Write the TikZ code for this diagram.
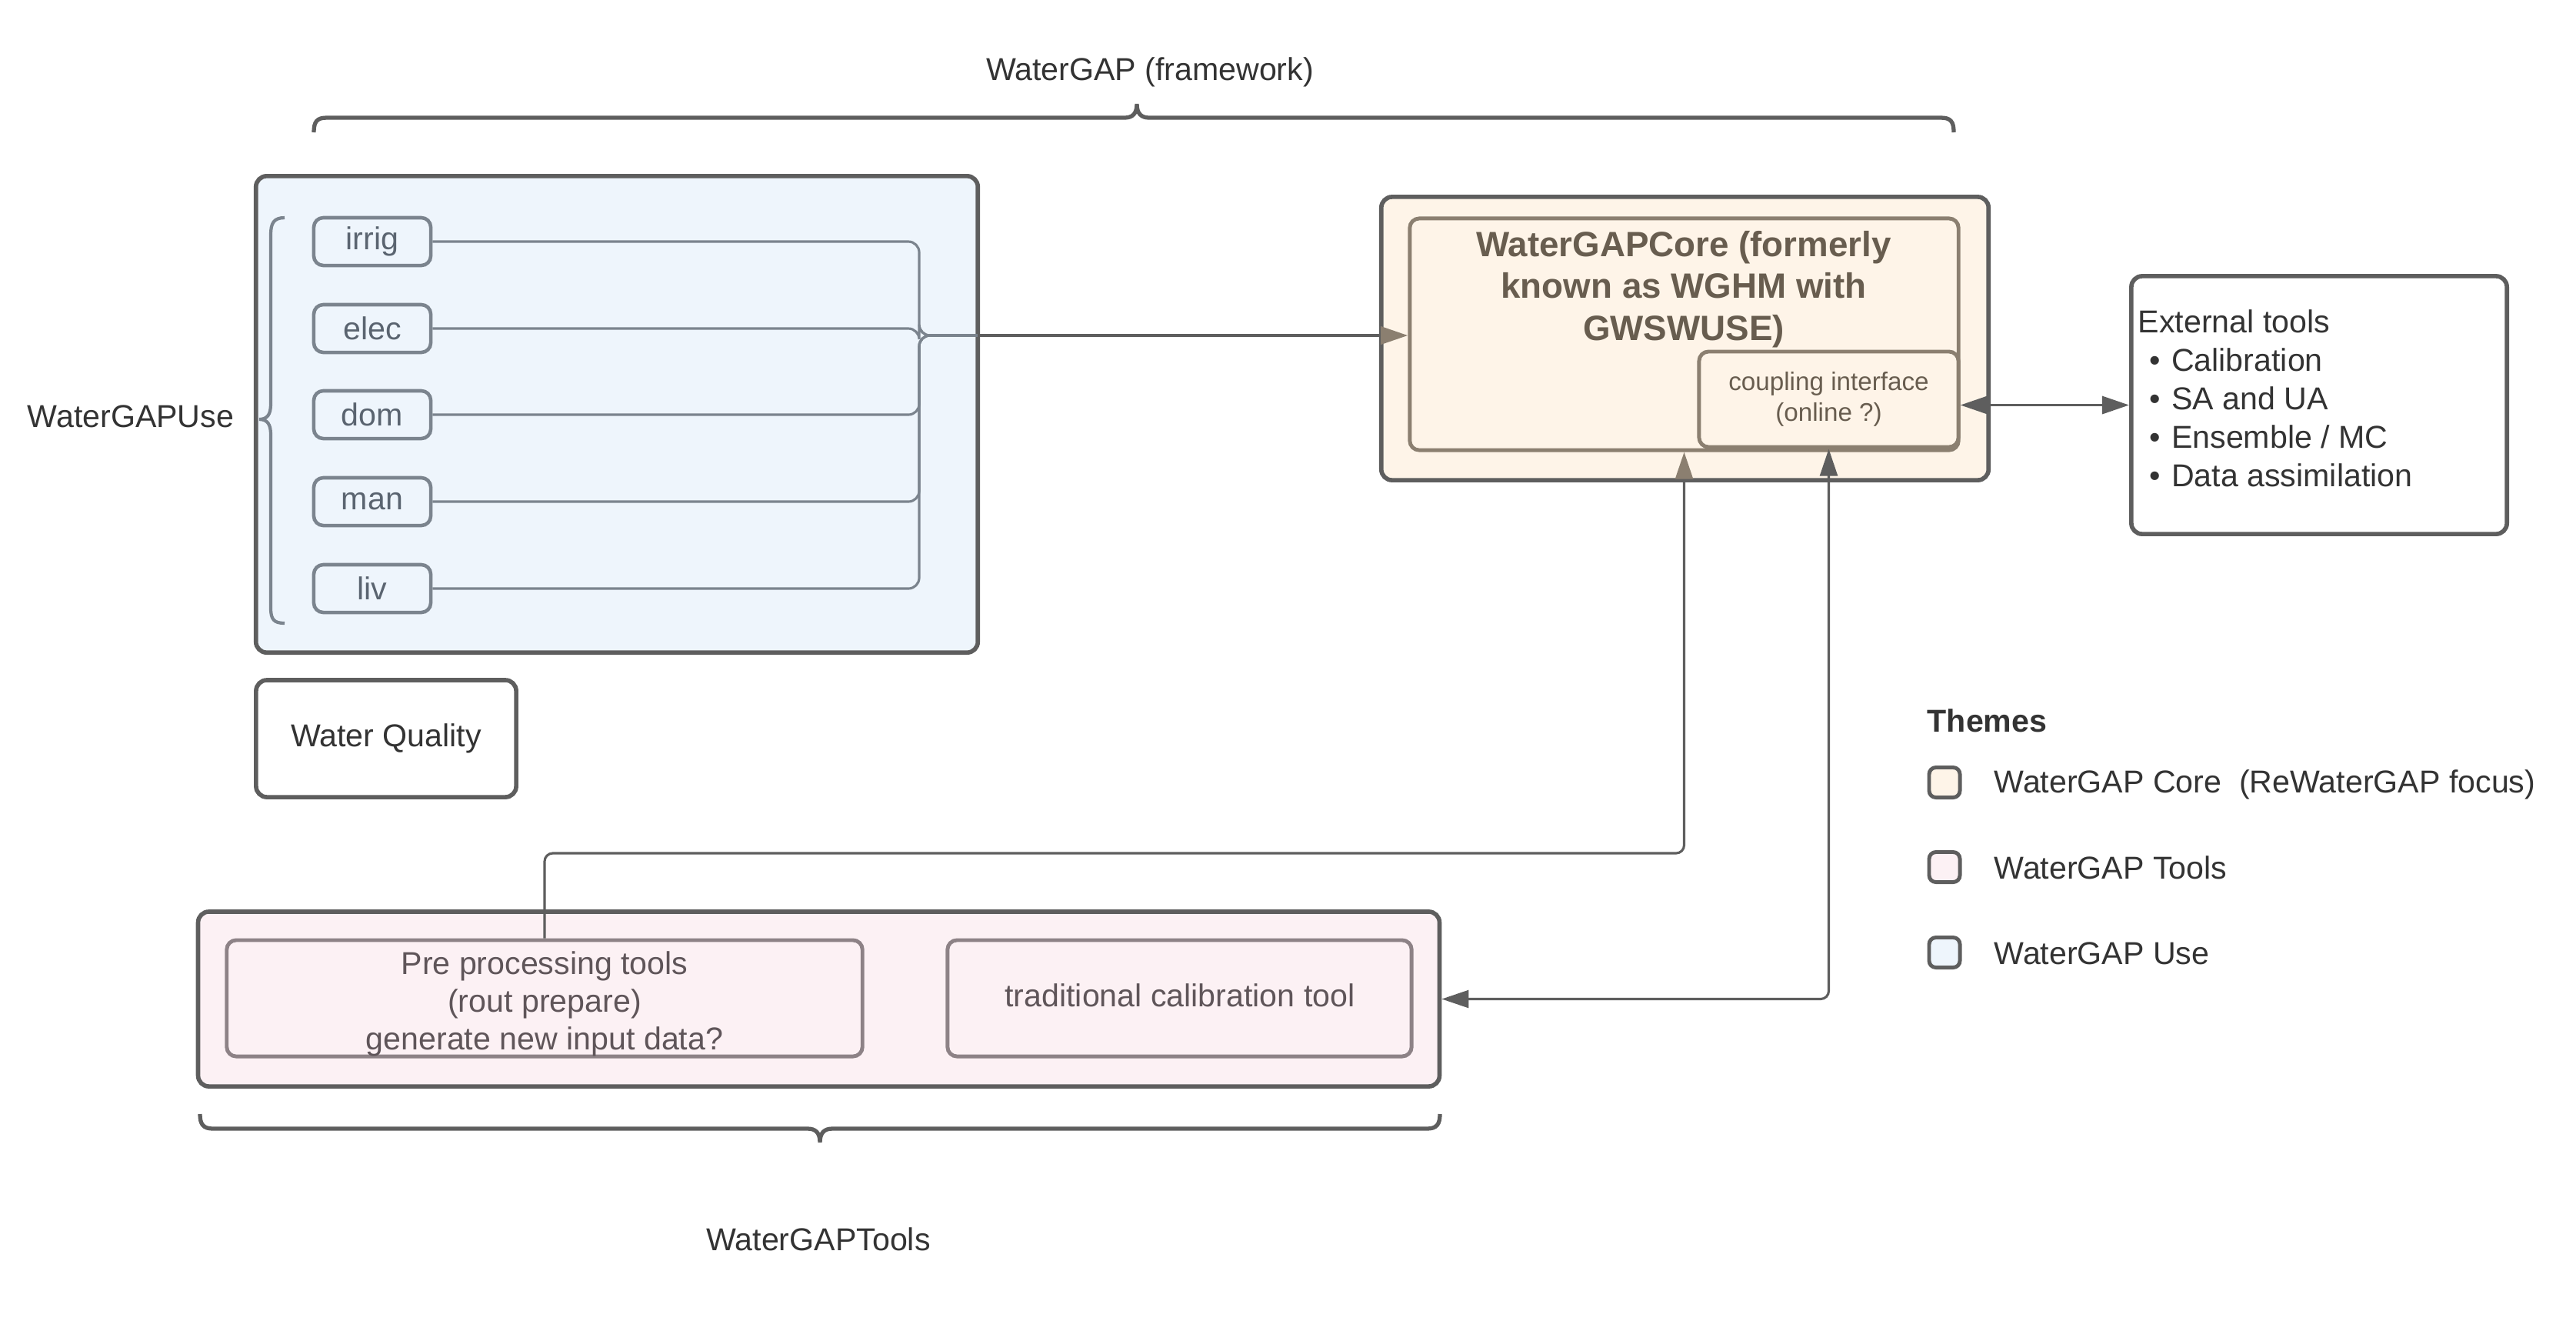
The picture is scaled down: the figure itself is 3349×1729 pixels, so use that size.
\documentclass[tikz,border=0pt]{standalone}
\usepackage{fontspec}
\setmainfont{Liberation Sans}
\usetikzlibrary{arrows.meta}
\definecolor{dk}{HTML}{5E5E5E}
\definecolor{txt}{HTML}{333333}
\definecolor{usefill}{HTML}{EEF5FC}
\definecolor{useline}{HTML}{7B848E}
\definecolor{usetxt}{HTML}{5A6470}
\definecolor{corefill}{HTML}{FEF4E8}
\definecolor{coreline}{HTML}{8B7F70}
\definecolor{coretxt}{HTML}{685D4F}
\definecolor{toolfill}{HTML}{FCF1F4}
\definecolor{toolline}{HTML}{8D8286}
\definecolor{tooltxt}{HTML}{5F5559}
\begin{document}
\begin{tikzpicture}[x=0.01cm,y=-0.01cm,
  base/.style={font=\fontsize{11.7}{14.2}\selectfont, inner sep=0pt, text=txt},
  outerbox/.style={base, draw=dk, line width=1.6pt, rounded corners=4pt},
  itembox/.style={base, draw=useline, line width=1.3pt, rounded corners=3.5pt, fill=usefill, text=usetxt, minimum width=1.52cm, minimum height=0.62cm},
  coreinbox/.style={base, draw=coreline, line width=1.4pt, rounded corners=3.5pt, fill=corefill, text=coretxt},
  toolinbox/.style={base, draw=toolline, line width=1.4pt, rounded corners=3.5pt, fill=toolfill, text=tooltxt, minimum width=1cm, minimum height=1.51cm},
  legsq/.style={draw=dk, line width=1.4pt, rounded corners=2.5pt, minimum width=0.40cm, minimum height=0.39cm, inner sep=0pt},
  usewire/.style={draw=useline, line width=0.9pt, rounded corners=4pt},
  wire/.style={draw=dk, line width=0.9pt, rounded corners=3pt},
  brace/.style={draw=dk, line width=1.5pt},
  headbrown/.style={-{Triangle[length=10pt,width=6.5pt,fill=coreline,color=coreline]}},
  headboth/.style={{Triangle[length=10pt,width=6.5pt]}-{Triangle[length=10pt,width=6.5pt]}}
]
\useasboundingbox (0,0) rectangle (3349,1729);

% ---- top brace and label
\node[base] (fwlabel) at (1495,94) {WaterGAP (framework)};
\draw[brace] (408,172) .. controls (408,158) and (412,153) .. (425,153) -- (1462,153)
  .. controls (1472,153) and (1478,148) .. (1478,135)
  .. controls (1478,148) and (1484,153) .. (1494,153) -- (2523,153)
  .. controls (2536,153) and (2540,158) .. (2540,172);

% ---- WaterGAPUse
\node[base] (uselabel) at (170,541) {WaterGAPUse};
\node[outerbox, fill=usefill, minimum width=9.38cm, minimum height=6.19cm] (usebox) at (802,538.5) {};
\draw[draw=useline, line width=1.2pt] (370,283) .. controls (356,283) and (352,290) .. (352,305) -- (352,525)
  .. controls (352,538) and (348,545) .. (337,545)
  .. controls (348,545) and (352,552) .. (352,565) -- (352,790)
  .. controls (352,805) and (356,810) .. (370,810);
\node[itembox] (irrig) at (484,314) {irrig};
\node[itembox] (elec) at (484,427) {elec};
\node[itembox] (dom) at (484,539) {dom};
\node[itembox] (man) at (484,652) {man};
\node[itembox] (liv) at (484,765) {liv};
\coordinate (merge) at (1195,436);
\coordinate (mergeout) at (1271,436);

\node[outerbox, minimum width=3.38cm, minimum height=1.52cm] (wq) at (502,960) {Water Quality};

% ---- Core
\node[outerbox, fill=corefill, minimum width=7.89cm, minimum height=3.68cm] (coreout) at (2190.5,440) {};
\node[coreinbox, minimum width=7.13cm, minimum height=3.01cm] (corein) at (2189.5,434.5) {};
\node[base, text=coretxt, align=center, font=\fontsize{13}{15.5}\selectfont\bfseries] (coretitle) at (2189,376)
  {WaterGAPCore (formerly\\known as WGHM with\\GWSWUSE)};
\node[coreinbox, minimum width=3.37cm, minimum height=1.24cm, align=center, font=\fontsize{9.45}{11.5}\selectfont] (coupling) at (2377.5,519)
  {coupling interface\\(online ?)};

% ---- External tools
\node[outerbox, minimum width=4.88cm, minimum height=3.35cm] (external) at (3015,526.5) {};
\node[base, anchor=west, align=left] (exttext) at (2779,518)
  {External tools\\
   \hspace*{0.15cm}\textbullet\hspace{0.14cm}Calibration\\
   \hspace*{0.15cm}\textbullet\hspace{0.14cm}SA and UA\\
   \hspace*{0.15cm}\textbullet\hspace{0.14cm}Ensemble / MC\\
   \hspace*{0.15cm}\textbullet\hspace{0.14cm}Data assimilation};

% ---- Tools
\node[outerbox, fill=toolfill, minimum width=16.13cm, minimum height=2.27cm] (tools) at (1064.5,1298.5) {};
\node[toolinbox, minimum width=8.26cm] (pre) at (708,1297.5) {};
\node[base, text=tooltxt, align=center, font=\fontsize{11.7}{13.9}\selectfont] (pretext) at (708,1305)
  {Pre processing tools\\(rout prepare)\\generate new input data?};
\node[toolinbox, minimum width=6.03cm] (trad) at (1533.5,1297.5) {};
\node[base, text=tooltxt] (tradtext) at (1534,1294) {traditional calibration tool};

\draw[brace] (260,1448) .. controls (260,1461) and (264,1467) .. (277,1467) -- (1050,1467)
  .. controls (1060,1467) and (1066,1472) .. (1066,1485)
  .. controls (1066,1472) and (1072,1467) .. (1082,1467) -- (1855,1467)
  .. controls (1868,1467) and (1872,1461) .. (1872,1448);
\node[base] (toolslabel) at (1064,1611) {WaterGAPTools};

% ---- Legend
\node[base, anchor=west, font=\fontsize{11.7}{14.2}\selectfont\bfseries] (themes) at (2505,937) {Themes};
\node[legsq, fill=corefill] (lg1) at (2528,1017) {};
\node[legsq, fill=toolfill] (lg2) at (2528,1127) {};
\node[legsq, fill=usefill] (lg3) at (2528,1238) {};
\node[base, anchor=west] (lt1) at (2592,1020) {WaterGAP Core~ (ReWaterGAP focus)};
\node[base, anchor=west] (lt2) at (2592,1128) {WaterGAP Tools};
\node[base, anchor=west] (lt3) at (2592,1239) {WaterGAP Use};

% ---- connectors
\foreach \n in {irrig,elec,dom,man,liv}
  \draw[usewire] (\n.east) -| (merge) -- (mergeout);
\draw[draw=dk, line width=1.1pt, headbrown] (mergeout) -- (corein.west |- mergeout);
\draw[wire, headbrown] (pre.north) -- (pre.north |- 0,1109) -| (corein.south);
\draw[wire, headboth] (coupling.south) |- (tools.east);
\draw[draw=dk, line width=1.1pt, headboth] (external.west -| coupling.east) -- (external.west);
\end{tikzpicture}
\end{document}
